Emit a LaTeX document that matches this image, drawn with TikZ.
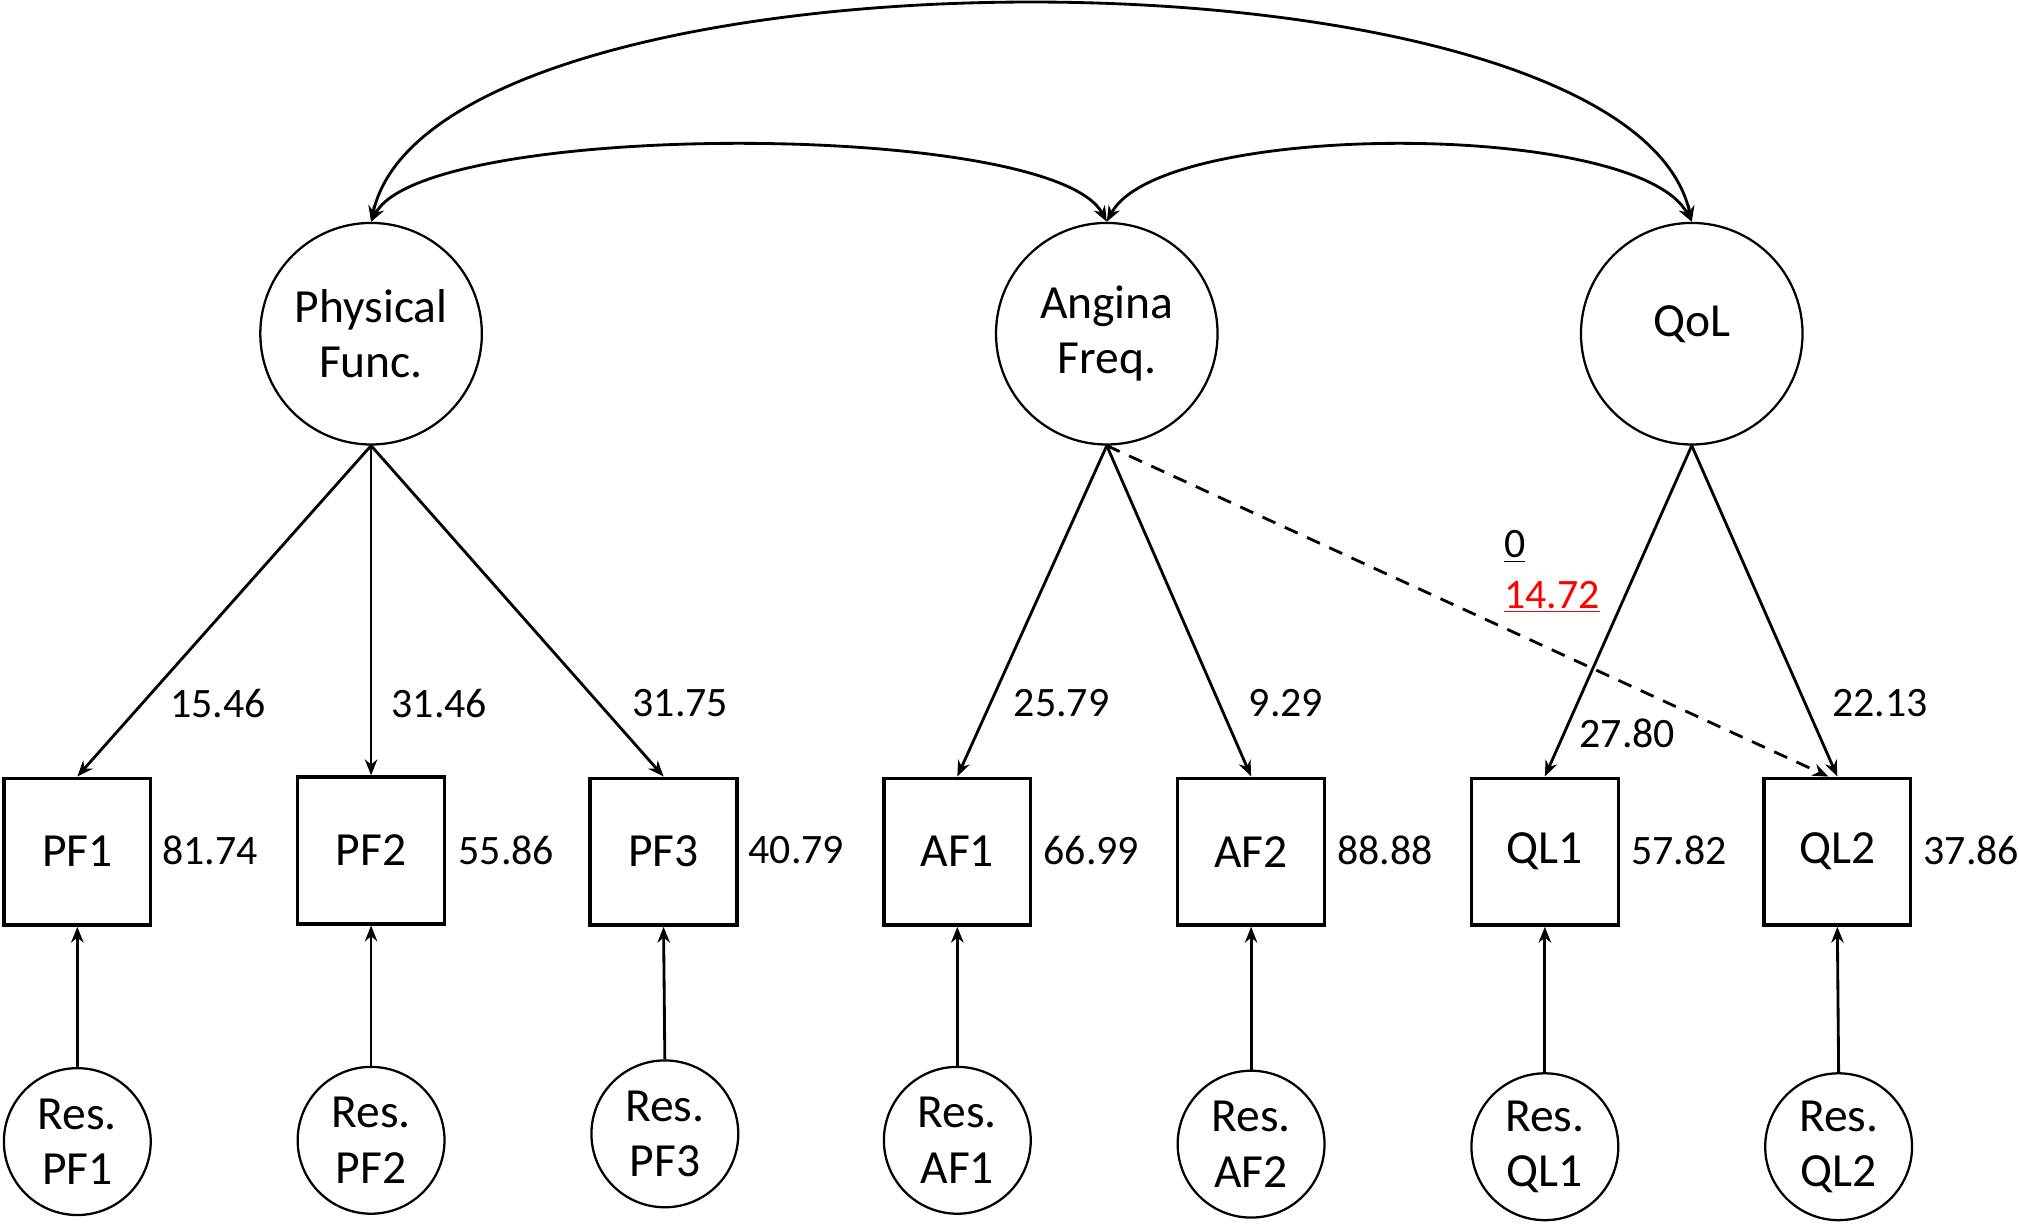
\documentclass[tikz,border=0pt]{standalone}
\usepackage{fontspec}
\setmainfont{Carlito}
\usetikzlibrary{arrows.meta}
\begin{document}
\begin{tikzpicture}[x=0.02cm,y=-0.02cm,
  every node/.style={font=\fontsize{21}{24.5}\selectfont},
  latent/.style={circle,draw,line width=1pt,minimum size=3.44cm,inner sep=0pt,align=center},
  resid/.style={circle,draw,line width=1pt,minimum size=2.28cm,inner sep=0pt,align=center},
  obs/.style={rectangle,draw,line width=1.5pt,minimum size=2.28cm,inner sep=0pt},
  lbl/.style={inner sep=0pt,font=\fontsize{18.5}{22}\selectfont},
  path/.style={line width=1.25pt,-{Stealth[length=7pt,width=5.5pt]}},
  cov/.style={line width=1.25pt,{Stealth[length=7pt,width=5.5pt]}-{Stealth[length=7pt,width=5.5pt]}},
  fixedpath/.style={path,dash pattern=on 0.22cm off 0.16cm}]
\useasboundingbox (0,0) rectangle (1567,953);
% latent variables
\node[latent] (pf) at (288,259) {Physical\\Func.};
\node[latent] (af) at (859,259) {Angina\\Freq.};
\node[latent] (ql) at (1313,259) {};
\node at (1313,252) (qltext) {QoL};
% observed
\node[obs] (pf1) at (60,661) {PF1};
\node[obs] (pf2) at (288,660) {PF2};
\node[obs] (pf3) at (515,661) {PF3};
\node[obs] (af1) at (743,661) {AF1};
\node[obs] (af2) at (971,661) {AF2};
\node[obs] (ql1) at (1199,661) {QL1};
\node[obs] (ql2) at (1426,661) {QL2};
% residuals
\node[resid] (rpf1) at (60,886) {Res.\\PF1};
\node[resid] (rpf2) at (288,885) {Res.\\PF2};
\node[resid] (rpf3) at (516,880) {Res.\\PF3};
\node[resid] (raf1) at (743,885) {Res.\\AF1};
\node[resid] (raf2) at (971,888) {Res.\\AF2};
\node[resid] (rql1) at (1199,890) {Res.\\QL1};
\node[resid] (rql2) at (1427,890) {Res.\\QL2};
% covariances
\draw[cov] (pf.north) .. controls +(42,-79) and +(-42,-79) .. (af.north);
\draw[cov] (af.north) .. controls +(42,-79) and +(-42,-79) .. (ql.north);
\draw[cov] (pf.north) .. controls +(50,-225) and +(-50,-225) .. (ql.north);
% loadings
\draw[path] (pf.south) -- (pf1.north);
\draw[path] (pf.south) -- (pf2.north);
\draw[path] (pf.south) -- (pf3.north);
\draw[path] (af.south) -- (af1.north);
\draw[path] (af.south) -- (af2.north);
\draw[path] (ql.south) -- (ql1.north);
\draw[path] (ql.south) -- (ql2.north);
\draw[fixedpath] (af.south) -- ([xshift=-4]ql2.north);
% residual paths
\foreach \r/\o in {rpf1/pf1,rpf2/pf2,rpf3/pf3,raf1/af1,raf2/af2,rql1/ql1,rql2/ql2}
  \draw[path] (\r.north) -- (\o.south);
% loading labels
\node[lbl] (l1) at (169,546) {15.46};
\node[lbl] (l2) at (341,546) {31.46};
\node[lbl] (l3) at (528,546) {31.75};
\node[lbl] (l4) at (824,546) {25.79};
\node[lbl] (l5) at (998,546) {9.29};
\node[lbl] (l6) at (1263,569) {27.80};
\node[lbl] (l7) at (1459,546) {22.13};
% residual variance labels
\node[lbl] (v1) at (163,660) {81.74};
\node[lbl] (v2) at (393,660) {55.86};
\node[lbl] (v3) at (618,660) {40.79};
\node[lbl] (v4) at (847,660) {66.99};
\node[lbl] (v5) at (1075,660) {88.88};
\node[lbl] (v6) at (1303,660) {57.82};
\node[lbl] (v7) at (1530,660) {37.86};
% fixed path labels
\node[lbl,anchor=base west] (z0) at (1167,433) {\underline{0}};
\node[lbl,anchor=base west,text=red] (z1) at (1167,472) {\underline{14.72}};
\end{tikzpicture}
\end{document}
